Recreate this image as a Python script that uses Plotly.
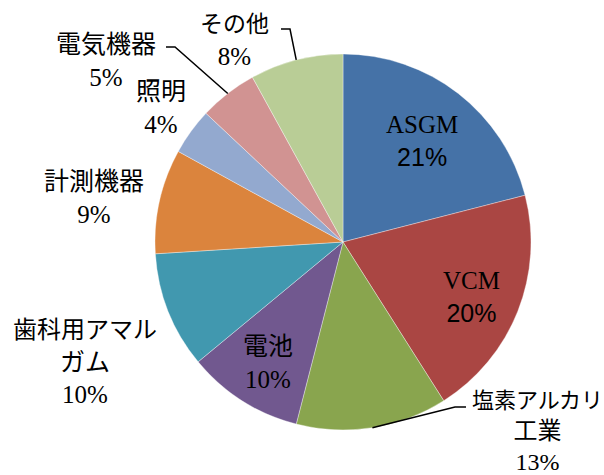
import math
import plotly.graph_objects as go

labels = ["ASGM", "VCM", "塩素アルカリ工業", "電池", "歯科用アマルガム",
          "計測機器", "照明", "電気機器", "その他"]
values = [21, 20, 13, 10, 10, 9, 4, 5, 8]
colors = ["#4572A7", "#AA4643", "#89A54E", "#71588F", "#4198AF",
          "#DB843D", "#93A9CF", "#D19392", "#B9CD96"]

W, H = 604, 475
CX, CY, R = 343, 242, 188

JP = "Noto Sans CJK JP"
SERIF = "Liberation Serif"
SANS = "Liberation Sans"

fig = go.Figure(go.Pie(
    labels=labels, values=values, sort=False, direction="clockwise",
    marker=dict(colors=colors, line=dict(color="rgba(255,255,255,0.6)", width=0.6)),
    textinfo="none", hoverinfo="skip", showlegend=False,
    domain=dict(x=[(CX - R) / W, (CX + R) / W], y=[1 - (CY + R) / H, 1 - (CY - R) / H]),
))


def pct(v, font=SERIF):
    return "<span style='font-family:%s'>%d%%</span>" % (font, v)


# label text, centre position in pixels, base font size
label_text = {
    "ASGM": ("<span style='font-family:%s'>ASGM</span><br>%s" % (SERIF, pct(21, SANS)), 422, 141, 25),
    "VCM": ("<span style='font-family:%s'>VCM</span><br>%s" % (SERIF, pct(20, SANS)), 471, 297, 25),
    "塩素アルカリ工業": ("<span style='font-size:22px'>塩素アルカリ</span><br>工業<br>" + pct(13), 537, 428, 24),
    "電池": ("電池<br>" + pct(10), 268, 359, 25),
    "歯科用アマルガム": ("<span style='font-size:24px'>歯科用アマル</span><br>ガム<br>" + pct(10), 85, 359, 25),
    "計測機器": ("計測機器<br>" + pct(9), 94, 195, 25),
    "照明": ("照明<br>" + pct(4), 161, 104, 25),
    "電気機器": ("電気機器<br>" + pct(5), 106, 57, 25),
    "その他": ("<span style='font-size:23px'>その他</span><br>" + pct(8), 234, 38, 25),
}

for name in labels:
    txt, px, py, size = label_text[name]
    fig.add_annotation(x=px / W, y=1 - py / H, xref="paper", yref="paper",
                       text=txt, showarrow=False, xanchor="center", yanchor="middle",
                       font=dict(family=JP, size=size, color="black"))

# leader lines: from label to the middle of the slice edge
leaders = {"その他": (281, 29, 290), "電気機器": (166, 47, 175), "塩素アルカリ工業": (466, 407, 455)}
total = sum(values)
cum = 0
for name, v in zip(labels, values):
    mid = (cum + v / 2) / total * 2 * math.pi
    cum += v
    if name not in leaders:
        continue
    x0, y0, x1 = leaders[name]
    ex, ey = CX + R * math.sin(mid), CY - R * math.cos(mid)
    path = "M %f %f L %f %f L %f %f" % (x0 / W, 1 - y0 / H, x1 / W, 1 - y0 / H, ex / W, 1 - ey / H)
    fig.add_shape(type="path", path=path, xref="paper", yref="paper",
                  line=dict(color="black", width=1.5))

fig.update_layout(width=W, height=H, margin=dict(l=0, r=0, t=0, b=0),
                  paper_bgcolor="white", plot_bgcolor="white")
fig.write_html("out.html", config={"displayModeBar": False},
               post_script="document.body.style.margin='0';")
